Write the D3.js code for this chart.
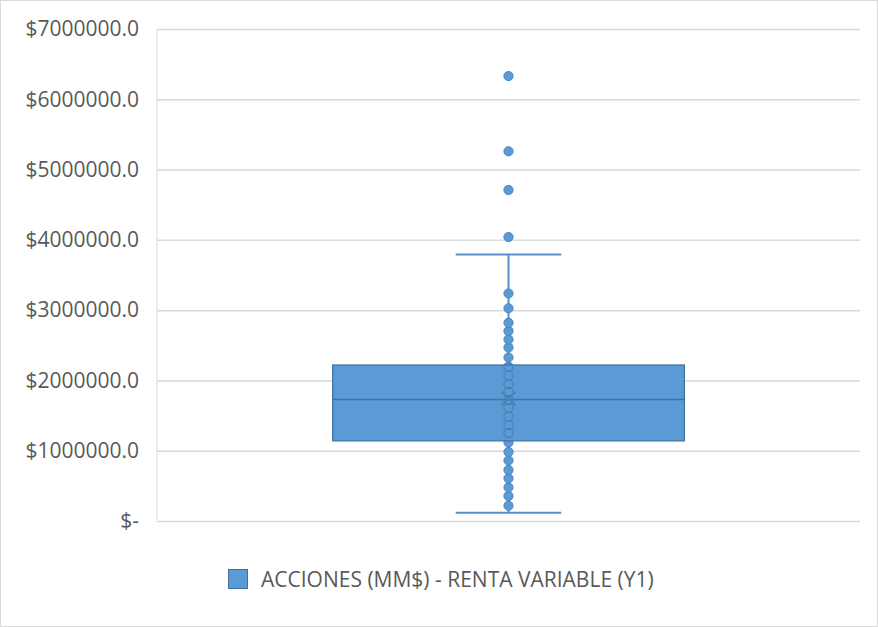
<!DOCTYPE html>
<html><head><meta charset="utf-8">
<script src="https://cdn.jsdelivr.net/npm/d3@7"></script>
<style>body{margin:0;background:#fff}svg{display:block}</style>
</head><body><svg id="c" width="878" height="627"></svg>
<script>
const categories = ["ACCIONES (MM$) - RENTA VARIABLE (Y1)"];
const yTicks = [0, 1000000, 2000000, 3000000, 4000000, 5000000, 6000000, 7000000];
// box statistics
const q1 = [1140000];
const median = [1730000];
const q3 = [2220000];
const whiskerLow = [118000];
const whiskerHigh = [3790000];
const mean = [1740000];
// points shown (inner points and outliers)
const points = [218000, 356000, 477000, 607000, 726000, 861000, 982000, 1117000, 1252000,
  1366000, 1487000, 1608000, 1721000, 1835000, 1949000, 2070000, 2191000, 2326000, 2468000,
  2582000, 2703000, 2821000, 3026000, 3237000];
const outliers = [4040000, 4710000, 5260000, 6330000];

(function () {
const svg = d3.select("#c");
const W = 878, H = 627;
const pLeft = 157, pRight = 860, pTop = 29, pBottom = 521;
const fill = "#5b9bd5", dark = "#41719c";
const font = "'Open Sans', sans-serif", fs = "21px";

svg.append("rect").attr("x", 0.5).attr("y", 0.5).attr("width", W - 1).attr("height", H - 1)
  .attr("fill", "#fff").attr("stroke", "#d9d9d9");

const y = d3.scaleLinear().domain([0, 7000000]).range([pBottom, pTop]);
const x = d3.scaleBand().domain(categories).range([pLeft, pRight]).paddingInner(0.333).paddingOuter(0.333);

const fmt = v => v === 0 ? "$-" : "$" + (v).toFixed(1);
const yAxis = d3.axisLeft(y).tickValues(yTicks).tickFormat(fmt).tickSize(-(pRight - pLeft)).tickPadding(18);
const ga = svg.append("g").attr("transform", `translate(${pLeft},0)`).call(yAxis);
ga.select(".domain").attr("stroke", "#d9d9d9").attr("d", `M0,${pTop}V${pBottom}`);
ga.selectAll(".tick line").attr("stroke", "#d9d9d9").attr("stroke-width", 1.5);
ga.selectAll(".tick text").attr("fill", "#595959").style("font-family", font).style("font-size", fs);

const cx = x(categories[0]) + x.bandwidth() / 2;
const bw = x.bandwidth();
const capW = bw * 0.3;
const g = svg.append("g");

g.append("line").attr("x1", cx).attr("x2", cx).attr("y1", y(q3[0])).attr("y2", y(whiskerHigh[0])).attr("stroke", "#5b8fc7").attr("stroke-width", 2);
g.append("line").attr("x1", cx).attr("x2", cx).attr("y1", y(q1[0])).attr("y2", y(whiskerLow[0])).attr("stroke", "#5b8fc7").attr("stroke-width", 2);
[whiskerHigh[0], whiskerLow[0]].forEach(v => {
  g.append("line").attr("x1", cx - capW / 2).attr("x2", cx + capW / 2).attr("y1", y(v)).attr("y2", y(v))
    .attr("stroke", "#5b8fc7").attr("stroke-width", 2);
});

g.selectAll("circle.p").data(points.concat(outliers)).join("circle").attr("class", "p")
  .attr("cx", cx).attr("cy", d => y(d)).attr("r", 4.6)
  .attr("fill", fill).attr("stroke", "#4a86c0").attr("stroke-width", 1);

g.append("rect").attr("x", x(categories[0])).attr("width", bw)
  .attr("y", y(q3[0])).attr("height", y(q1[0]) - y(q3[0]))
  .attr("fill", fill).attr("stroke", dark).attr("stroke-width", 1.2);
g.append("line").attr("x1", x(categories[0])).attr("x2", x(categories[0]) + bw)
  .attr("y1", y(median[0])).attr("y2", y(median[0])).attr("stroke", dark).attr("stroke-width", 1.5);

g.selectAll("circle.o").data(points.filter(v => v > q1[0] && v < q3[0])).join("circle").attr("class", "o")
  .attr("cx", cx).attr("cy", d => y(d)).attr("r", 4.6)
  .attr("fill", "none").attr("stroke", "#4a80b8").attr("stroke-width", 1.2);

const my = y(mean[0]), ms = 7;
g.append("path").attr("d", `M${cx - ms},${my - ms}L${cx + ms},${my + ms}M${cx - ms},${my + ms}L${cx + ms},${my - ms}`)
  .attr("stroke", "#4a80b8").attr("stroke-width", 2);

const lg = svg.append("g");
lg.append("rect").attr("x", 228.5).attr("y", 569.5).attr("width", 19).attr("height", 19).attr("fill", fill).attr("stroke", dark);
lg.append("text").attr("x", 261).attr("y", 587).text(categories[0])
  .attr("fill", "#595959").style("font-family", font).style("font-size", fs);
})();
</script></body></html>
